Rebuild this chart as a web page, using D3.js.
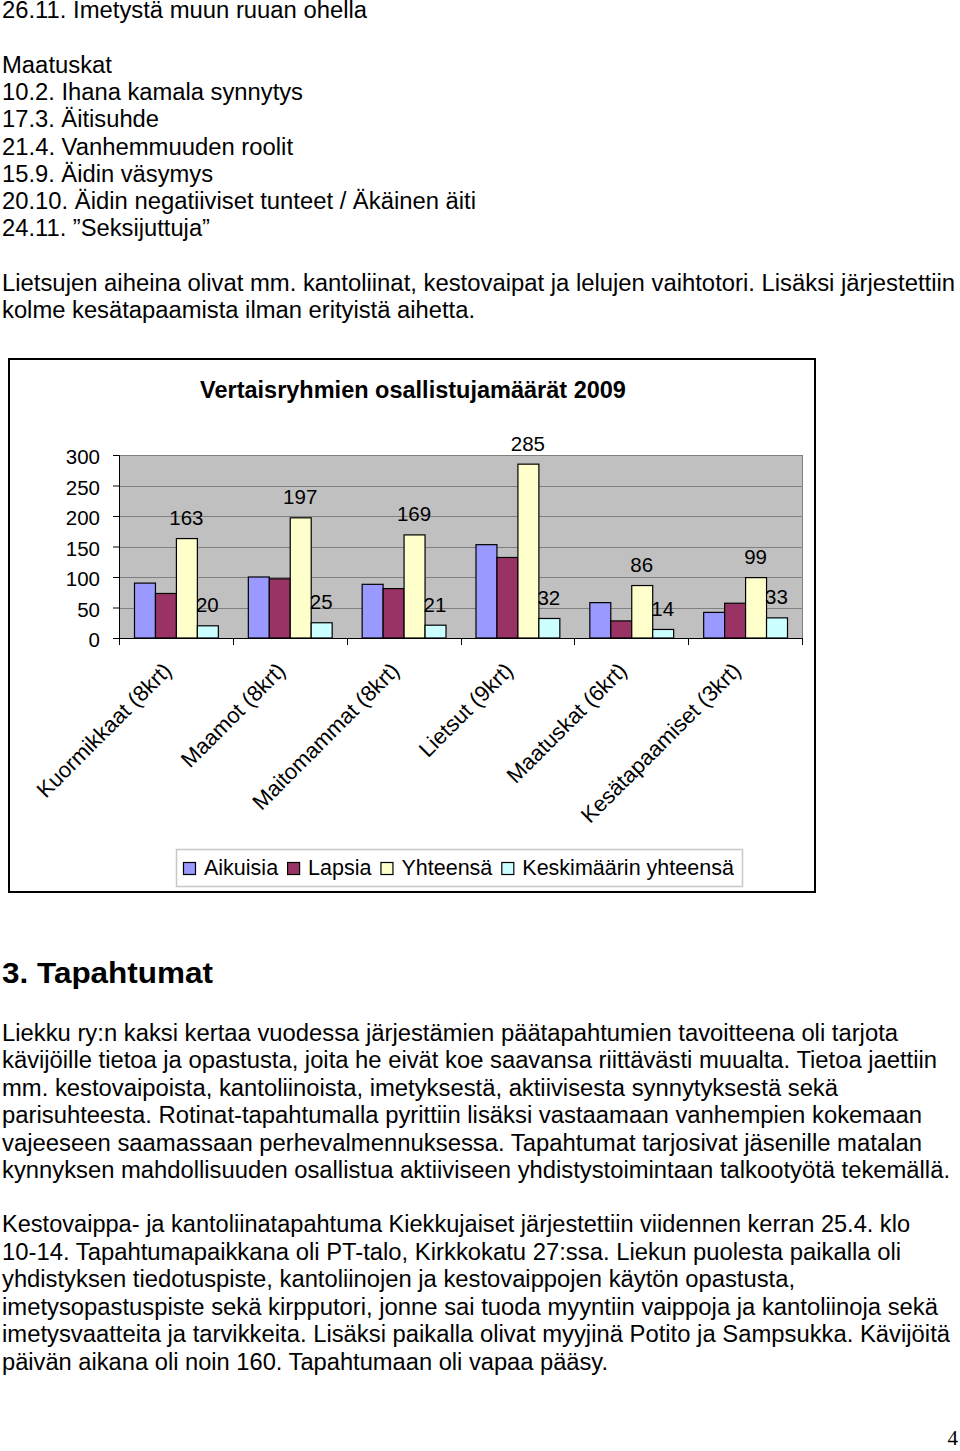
<!DOCTYPE html>
<html>
<head>
<meta charset="utf-8">
<script src="https://cdn.jsdelivr.net/npm/d3@7"></script>
<style>
  html, body { margin: 0; padding: 0; background: #fff; }
  svg { display: block; }
  text { font-family: "Liberation Sans", Arial, sans-serif; fill: #000; }
</style>
</head>
<body>
<svg id="page" width="960" height="1451"></svg>
<script>
// ---------- chart data ----------
const categories = ["Kuormikkaat (8krt)", "Maamot (8krt)", "Maitomammat (8krt)", "Lietsut (9krt)", "Maatuskat (6krt)", "Kesätapaamiset (3krt)"];
const seriesNames = ["Aikuisia", "Lapsia", "Yhteensä", "Keskimäärin yhteensä"];
const aikuisia = [90, 100, 88, 153, 58, 42];
const lapsia = [73, 97, 81, 132, 28, 57];
const yhteensa = [163, 197, 169, 285, 86, 99];
const keskimaarin = [20, 25, 21, 32, 14, 33];
const yTicks = [0, 50, 100, 150, 200, 250, 300];
const labelledSeries = ["Yhteensä", "Keskimäärin yhteensä"];
const chartTitle = "Vertaisryhmien osallistujamäärät 2009";

// ---------- page text ----------
const topLines = [
  "26.11. Imetystä muun ruuan ohella",
  "",
  "Maatuskat",
  "10.2. Ihana kamala synnytys",
  "17.3. Äitisuhde",
  "21.4. Vanhemmuuden roolit",
  "15.9. Äidin väsymys",
  "20.10. Äidin negatiiviset tunteet / Äkäinen äiti",
  "24.11. ”Seksijuttuja”",
  "",
  "Lietsujen aiheina olivat mm. kantoliinat, kestovaipat ja lelujen vaihtotori. Lisäksi järjestettiin",
  "kolme kesätapaamista ilman erityistä aihetta."
];
const topEnds = [367, 0, 112, 303, 159, 293, 213, 476, 210, 0, 955, 475];
const heading = "3. Tapahtumat";
const para1 = [
  "Liekku ry:n kaksi kertaa vuodessa järjestämien päätapahtumien tavoitteena oli tarjota",
  "kävijöille tietoa ja opastusta, joita he eivät koe saavansa riittävästi muualta. Tietoa jaettiin",
  "mm. kestovaipoista, kantoliinoista, imetyksestä, aktiivisesta synnytyksestä sekä",
  "parisuhteesta. Rotinat-tapahtumalla pyrittiin lisäksi vastaamaan vanhempien kokemaan",
  "vajeeseen saamassaan perhevalmennuksessa. Tapahtumat tarjosivat jäsenille matalan",
  "kynnyksen mahdollisuuden osallistua aktiiviseen yhdistystoimintaan talkootyötä tekemällä."
];
const para1Ends = [898, 937, 838, 922, 922, 950];
const para2 = [
  "Kestovaippa- ja kantoliinatapahtuma Kiekkujaiset järjestettiin viidennen kerran 25.4. klo",
  "10-14. Tapahtumapaikkana oli PT-talo, Kirkkokatu 27:ssa. Liekun puolesta paikalla oli",
  "yhdistyksen tiedotuspiste, kantoliinojen ja kestovaippojen käytön opastusta,",
  "imetysopastuspiste sekä kirpputori, jonne sai tuoda myyntiin vaippoja ja kantoliinoja sekä",
  "imetysvaatteita ja tarvikkeita. Lisäksi paikalla olivat myyjinä Potito ja Sampsukka. Kävijöitä",
  "päivän aikana oli noin 160. Tapahtumaan oli vapaa pääsy."
];
const para2Ends = [910, 901, 795, 938, 950, 608];

const svg = d3.select("#page");
svg.append("rect").attr("width", 960).attr("height", 1451).attr("fill", "#fff");

const textX = 2;
function lines(arr, ends, y0, step, size) {
  arr.forEach((t, i) => {
    if (!t) return;
    svg.append("text")
      .attr("x", textX).attr("y", y0 + i * step)
      .attr("font-size", size)
      .attr("textLength", ends[i] - textX)
      .attr("lengthAdjust", "spacingAndGlyphs")
      .text(t);
  });
}
lines(topLines, topEnds, 18, 27.3, 23.5);
svg.append("text").attr("x", textX).attr("y", 983).attr("font-size", 29)
  .attr("font-weight", "bold").attr("textLength", 213 - textX)
  .attr("lengthAdjust", "spacingAndGlyphs").text(heading);
lines(para1, para1Ends, 1041, 27.4, 23.5);
lines(para2, para2Ends, 1232, 27.5, 23.5);
svg.append("text").attr("x", 958).attr("y", 1445).attr("text-anchor", "end")
  .attr("font-size", 21).style("font-family", "'Liberation Serif', 'Times New Roman', serif").text("4");

// ---------- chart ----------
const box = {x: 9, y: 359, w: 806, h: 533};
svg.append("rect").attr("x", box.x).attr("y", box.y).attr("width", box.w).attr("height", box.h)
  .attr("fill", "#fff").attr("stroke", "#000").attr("stroke-width", 2);

svg.append("text").attr("x", 413).attr("y", 398).attr("text-anchor", "middle")
  .attr("font-size", 23.5).attr("font-weight", "bold").text(chartTitle);

const plot = {l: 119, r: 802, t: 455, b: 638};
const y = d3.scaleLinear().domain([0, 300]).range([plot.b, plot.t]);
const x0 = d3.scaleBand().domain(categories).range([plot.l, plot.r]).padding(0);
const x1 = d3.scaleBand().domain(seriesNames).range([15, x0.bandwidth() - 15]).padding(0);
const color = d3.scaleOrdinal().domain(seriesNames).range(["#9999FF", "#993366", "#FFFFCC", "#CCFFFF"]);

const g = svg.append("g");
g.append("rect").attr("x", plot.l).attr("y", plot.t).attr("width", plot.r - plot.l)
  .attr("height", plot.b - plot.t).attr("fill", "#C0C0C0");

// gridlines
g.append("g").selectAll("line").data(yTicks.filter(d => d > 0)).join("line")
  .attr("x1", plot.l).attr("x2", plot.r)
  .attr("y1", d => Math.round(y(d)) + 0.5).attr("y2", d => Math.round(y(d)) + 0.5)
  .attr("stroke", "#808080").attr("stroke-width", 1);
g.append("line").attr("x1", plot.r + 0.5).attr("x2", plot.r + 0.5)
  .attr("y1", plot.t).attr("y2", plot.b).attr("stroke", "#808080");

// bars
const rows = categories.map((c, i) => ({
  cat: c,
  vals: [aikuisia[i], lapsia[i], yhteensa[i], keskimaarin[i]].map((v, k) => ({s: seriesNames[k], v}))
}));
const grp = g.append("g").selectAll("g").data(rows).join("g")
  .attr("transform", d => `translate(${x0(d.cat)},0)`);
grp.selectAll("rect").data(d => d.vals).join("rect")
  .attr("x", d => x1(d.s) + 0.5)
  .attr("y", d => y(d.v))
  .attr("width", x1.bandwidth())
  .attr("height", d => y(0) - y(d.v))
  .attr("fill", d => color(d.s))
  .attr("stroke", "#000").attr("stroke-width", 1.2);
grp.selectAll("text.val").data(d => d.vals.filter(v => labelledSeries.includes(v.s))).join("text")
  .attr("class", "val")
  .attr("x", d => x1(d.s) + x1.bandwidth() / 2)
  .attr("y", d => y(d.v) - 13.5)
  .attr("text-anchor", "middle").attr("font-size", 20.5)
  .text(d => d.v);

// y axis
const yAxis = g.append("g").attr("transform", `translate(${plot.l},0)`)
  .call(d3.axisLeft(y).tickValues(yTicks).tickSize(6).tickPadding(13).tickFormat(d3.format("d")));
yAxis.select(".domain").attr("stroke", "#000");
yAxis.selectAll(".tick line").attr("stroke", "#000");
yAxis.selectAll(".tick text").attr("font-size", 20.5).attr("dy", "0.42em")
  .style("font-family", "'Liberation Sans', Arial, sans-serif").attr("fill", "#000");

// x axis
const xAxis = g.append("g").attr("transform", `translate(0,${plot.b})`)
  .call(d3.axisBottom(x0).tickSize(0).tickPadding(0));
xAxis.select(".domain").attr("stroke", "#000");
xAxis.selectAll(".tick text")
  .attr("font-size", 22)
  .style("font-family", "'Liberation Sans', Arial, sans-serif").attr("fill", "#000")
  .attr("text-anchor", "end")
  .attr("y", 0).attr("dy", 0)
  .attr("transform", "translate(-3,34) rotate(-45)");
const boundaries = categories.map(c => x0(c)).concat([x0.range()[1]]);
g.append("g").selectAll("line").data(boundaries).join("line")
  .attr("x1", d => Math.round(d) + 0.5).attr("x2", d => Math.round(d) + 0.5)
  .attr("y1", plot.b).attr("y2", plot.b + 7)
  .attr("stroke", "#000");

// legend
const leg = svg.append("g");
leg.append("rect").attr("x", 176.5).attr("y", 849.5).attr("width", 566).attr("height", 37)
  .attr("fill", "#fff").attr("stroke", "#C8C8C8").attr("stroke-width", 1.5);
let lx = 183;
seriesNames.forEach(s => {
  leg.append("rect").attr("x", lx + 0.5).attr("y", 862.5).attr("width", 12).attr("height", 12)
    .attr("fill", color(s)).attr("stroke", "#000").attr("stroke-width", 1.2);
  const t = leg.append("text").attr("x", lx + 21).attr("y", 875).attr("font-size", 21.5).text(s);
  lx = lx + 21 + t.node().getComputedTextLength() + 9;
});
</script>
</body>
</html>
